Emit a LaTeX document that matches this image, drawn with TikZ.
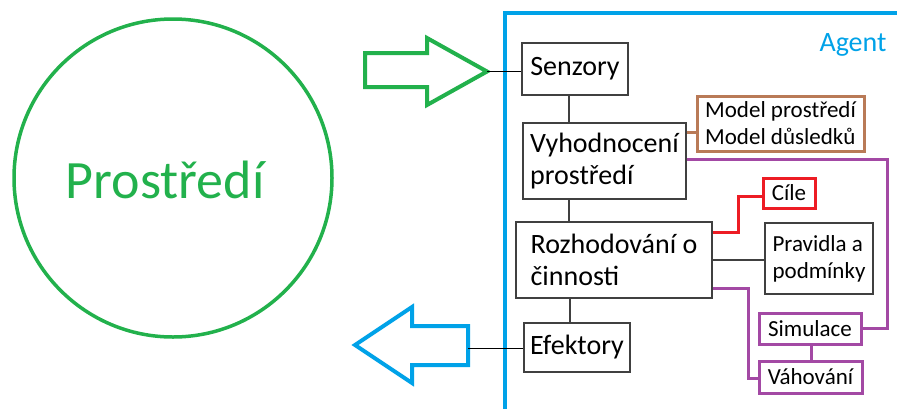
\documentclass[tikz,border=0pt]{standalone}
\usepackage{fontspec}
\setmainfont{Carlito}
\usetikzlibrary{calc}
\definecolor{envgreen}{HTML}{22B14C}
\definecolor{agentblue}{HTML}{00A2E8}
\definecolor{modelbrown}{HTML}{B97A57}
\definecolor{goalred}{HTML}{ED1C24}
\definecolor{simpurple}{HTML}{A349A4}
\definecolor{boxgray}{HTML}{404040}
\newcommand{\bigtxt}{\fontsize{28}{32}\selectfont}
\newcommand{\smalltxt}{\fontsize{23}{27}\selectfont}
\tikzset{
  stage/.style={draw=boxgray, line width=1.4pt, inner sep=0pt, align=left, font=\bigtxt},
  side/.style={draw=boxgray, line width=1.4pt, inner sep=0pt, align=left, font=\smalltxt},
  link/.style={draw=boxgray, line width=1.1pt},
  tinted/.style={line width=3pt},
  bigarrow/.style={line width=4pt, line join=miter, fill=white},
}
\begin{document}
\begin{tikzpicture}[x=1pt, y=-1pt]
\useasboundingbox (0,0) rectangle (897,408);

% environment
\node[draw=envgreen, line width=3.5pt, circle, minimum size=318pt, inner sep=0pt] (env) at (173,178) {};
\node[text=envgreen, font=\fontsize{54}{60}\selectfont] (envtxt) at (165,180) {Prostředí};

% agent frame
\draw[agentblue, line width=4pt] (505,412) -- (505,13) -- (901,13);
\node[text=agentblue, font=\bigtxt] (agent) at (853,45) {Agent};

% main pipeline
\node[stage, minimum width=106pt, minimum height=52pt] (sen) at (575,69) {Senzory};
\node[stage, minimum width=163pt, minimum height=76pt] (vyh) at (604.5,161) {Vyhodnocení\\prostředí};
\node[stage, minimum width=196pt, minimum height=76pt] (roz) at (614,260) {Rozhodování o\\činnosti};
\node[stage, minimum width=106pt, minimum height=49pt] (efe) at (577,347.5) {Efektory};

% supporting blocks
\node[side, tinted, draw=modelbrown, minimum width=167pt, minimum height=55pt] (mod) at (780.5,123.5) {Model prostředí\\Model důsledků};
\node[side, tinted, draw=goalred, minimum width=52pt, minimum height=30pt] (cil) at (789,193) {Cíle};
\node[side, minimum width=108pt, minimum height=71pt] (pra) at (819,258.5) {Pravidla a\\podmínky};
\node[side, tinted, draw=simpurple, minimum width=102pt, minimum height=31pt] (sim) at (810,328.5) {Simulace};
\node[side, tinted, draw=simpurple, minimum width=103pt, minimum height=32pt] (vah) at (810.5,377) {Váhování};

% input and output arrows
\draw[envgreen, bigarrow] (365,53) -- (427,53) -- (427,38) -- (487,71.5) -- (427,105) -- (427,87) -- (365,87) -- cycle;
\coordinate (intip) at (487,71.5);
\draw[agentblue, bigarrow] (355,345) -- (412,307) -- (412,326) -- (468,326) -- (468,365) -- (412,365) -- (412,383) -- cycle;
\coordinate (outend) at (468,348);

% helper coordinates
\coordinate (spine) at (569,0);
\coordinate (spine2) at (570,0);
\coordinate (ybrown) at (0,132);
\coordinate (ypurple) at (0,159);
\coordinate (yred) at (0,232);
\coordinate (yred2) at (0,196);
\coordinate (yrule) at (0,260);
\coordinate (ypurple2) at (0,288);
\coordinate (yweigh) at (0,378);
\coordinate (xred) at (738,0);
\coordinate (xpurple) at (887,0);
\coordinate (xpurple2) at (748,0);
\coordinate (xsim) at (811,0);

% pipeline connectors
\draw[black, line width=1pt] (intip) -- (intip -| sen.west);
\draw[link] (spine |- sen.south) -- (spine |- vyh.north);
\draw[link] (spine |- vyh.south) -- (spine |- roz.north);
\draw[link] (spine2 |- roz.south) -- (spine2 |- efe.north);
\draw[black, line width=1pt] (efe.west |- outend) -- (outend);

% supporting connectors
\draw[modelbrown, tinted] (vyh.east |- ybrown) -- (mod.west |- ybrown);
\draw[simpurple, tinted] (vyh.east |- ypurple) -- (xpurple |- ypurple) -- (xpurple |- sim.east) -- (sim.east);
\draw[goalred, tinted] (roz.east |- yred) -- (xred |- yred) -- (xred |- yred2) -- (cil.west |- yred2);
\draw[link] (roz.east |- yrule) -- (pra.west |- yrule);
\draw[simpurple, tinted] (roz.east |- ypurple2) -- (xpurple2 |- ypurple2) -- (xpurple2 |- yweigh) -- (vah.west |- yweigh);
\draw[simpurple, tinted] (xsim |- sim.south) -- (xsim |- vah.north);
\end{tikzpicture}
\end{document}
